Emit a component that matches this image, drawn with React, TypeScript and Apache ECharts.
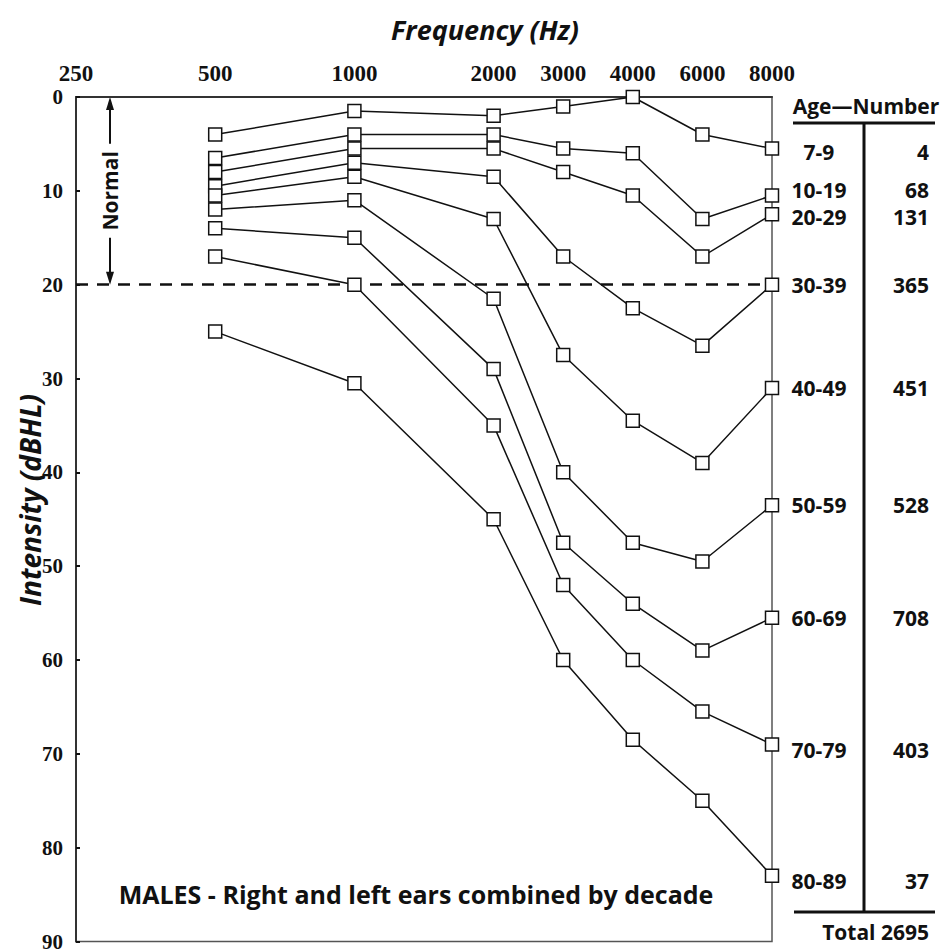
import React, { useEffect, useRef } from 'react';
import * as echarts from 'echarts';

// ---------- data ----------
const FREQUENCIES = [250, 500, 1000, 2000, 3000, 4000, 6000, 8000];
const TEST_FREQUENCIES = [500, 1000, 2000, 3000, 4000, 6000, 8000];
const AGE_GROUPS = ['7-9', '10-19', '20-29', '30-39', '40-49', '50-59', '60-69', '70-79', '80-89'];
const COUNTS = [4, 68, 131, 365, 451, 528, 708, 403, 37];

const AGE_7_9 = [4, 1.5, 2, 1, 0, 4, 5.5];
const AGE_10_19 = [6.5, 4, 4, 5.5, 6, 13, 10.5];
const AGE_20_29 = [8, 5.5, 5.5, 8, 10.5, 17, 12.5];
const AGE_30_39 = [9.5, 7, 8.5, 17, 22.5, 26.5, 20];
const AGE_40_49 = [10.5, 8.5, 13, 27.5, 34.5, 39, 31];
const AGE_50_59 = [12, 11, 21.5, 40, 47.5, 49.5, 43.5];
const AGE_60_69 = [14, 15, 29, 47.5, 54, 59, 55.5];
const AGE_70_79 = [17, 20, 35, 52, 60, 65.5, 69];
const AGE_80_89 = [25, 30.5, 45, 60, 68.5, 75, 83];
const SERIES_VALUES = [AGE_7_9, AGE_10_19, AGE_20_29, AGE_30_39, AGE_40_49, AGE_50_59, AGE_60_69, AGE_70_79, AGE_80_89];

const Y_MIN = 0;
const Y_MAX = 90;
const Y_INTERVAL = 10;
const NORMAL_LIMIT = 20;

// octave gaps get an unlabeled half-octave slot
const SLOTS: string[] = [];
FREQUENCIES.forEach((f, i) => {
  if (i > 0 && f / FREQUENCIES[i - 1] >= 2) SLOTS.push('');
  SLOTS.push(String(f));
});
const slotOf = (f: number) => SLOTS.indexOf(String(f));

const LABEL_DY: Record<string, number> = { '7-9': 3, '10-19': -6, '20-29': 3, '70-79': 6, '80-89': 5 };

const SANS = '"Open Sans", "Noto Sans", sans-serif';
const SERIF = '"Liberation Serif", "DejaVu Serif", serif';
const INK = '#111';

export default function App() {
  const ref = useRef<HTMLDivElement>(null);

  useEffect(() => {
    const el = ref.current!;
    const chart = echarts.init(el, undefined, { renderer: 'svg' });
    const total = COUNTS.reduce((a, b) => a + b, 0);

    const tableText = { fontFamily: SANS, fontWeight: 'bold' as const, fontSize: 21, color: INK, lineHeight: 17 };

    const option: any = {
      animation: false,
      backgroundColor: '#fff',
      grid: {
        left: 76, right: 171, top: 97, bottom: 6,
        show: true, borderColor: '#555', borderWidth: 1.5, containLabel: false,
      },
      xAxis: {
        type: 'category', position: 'top', data: SLOTS, boundaryGap: false,
        axisLine: { lineStyle: { color: '#333', width: 2 } },
        axisTick: { show: false },
        splitLine: { show: false },
        axisLabel: {
          interval: (_i: number, v: string) => v !== '',
          fontFamily: SERIF, fontWeight: 'bold', fontSize: 23, color: INK, margin: 12,
        },
      },
      yAxis: {
        type: 'value', inverse: true, min: Y_MIN, max: Y_MAX, interval: Y_INTERVAL,
        axisLine: { show: true, lineStyle: { color: '#333', width: 2 } },
        axisTick: { show: true, inside: true, length: 4, lineStyle: { color: INK, width: 2 } },
        splitLine: { show: false },
        axisLabel: { fontFamily: SERIF, fontWeight: 'bold', fontSize: 21, color: INK, margin: 13 },
      },
      series: AGE_GROUPS.map((age, s) => ({
        type: 'line',
        name: age,
        symbol: 'rect',
        symbolSize: 13,
        showSymbol: true,
        showAllSymbol: true,
        clip: false,
        z: 3,
        itemStyle: { color: '#fff', borderColor: INK, borderWidth: 1.5 },
        lineStyle: { color: INK, width: 1.5 },
        emphasis: { disabled: true },
        data: TEST_FREQUENCIES.map((f, i) => {
          const point: any = { value: [slotOf(f), SERIES_VALUES[s][i]] };
          if (i === TEST_FREQUENCIES.length - 1) {
            point.label = {
              show: true,
              position: 'inside',
              offset: [87, LABEL_DY[age] ?? 0],
              lineHeight: 17,
              formatter: `{age|${age}}{num|${COUNTS[s]}}`,
              rich: {
                age: { ...tableText, width: 60, align: 'center' },
                num: { ...tableText, width: 80, align: 'right' },
              },
            };
          }
          return point;
        }),
        markLine: s === 0 ? {
          silent: true,
          symbol: 'none',
          label: { show: false },
          lineStyle: { type: [12, 9], color: INK, width: 2.5 },
          data: [{ yAxis: NORMAL_LIMIT }],
          z: 1,
        } : undefined,
      })),
    };

    chart.setOption(option);

    const yTop = chart.convertToPixel({ yAxisIndex: 0 }, Y_MIN) as number;
    const yNorm = chart.convertToPixel({ yAxisIndex: 0 }, NORMAL_LIMIT) as number;
    const ax = 110;
    const mid = (yTop + yNorm) / 2;
    const lineStyle = { stroke: INK, lineWidth: 2 };
    const tableLine = { stroke: INK, lineWidth: 3 };

    chart.setOption({
      graphic: [
        { type: 'text', x: 485, y: 29, style: { text: 'Frequency (Hz)', fontFamily: SANS, fontWeight: 'bold', fontStyle: 'italic', fontSize: 27, fill: INK, textAlign: 'center', textVerticalAlign: 'middle' } },
        { type: 'text', x: 30, y: 500, rotation: Math.PI / 2, style: { text: 'Intensity (dBHL)', fontFamily: SANS, fontWeight: 'bold', fontStyle: 'italic', fontSize: 28, fill: INK, textAlign: 'center', textVerticalAlign: 'middle' } },
        { type: 'text', x: 416, y: 894, style: { text: 'MALES - Right and left ears combined by decade', fontFamily: SANS, fontWeight: 'bold', fontSize: 25, fill: INK, textAlign: 'center', textVerticalAlign: 'middle' } },
        // Normal arrow
        { type: 'line', shape: { x1: ax, y1: yTop + 10, x2: ax, y2: mid - 47 }, style: lineStyle },
        { type: 'line', shape: { x1: ax, y1: mid + 47, x2: ax, y2: yNorm - 10 }, style: lineStyle },
        { type: 'polygon', shape: { points: [[ax, yTop], [ax - 4, yTop + 13], [ax + 4, yTop + 13]] }, style: { fill: INK } },
        { type: 'polygon', shape: { points: [[ax, yNorm], [ax - 4, yNorm - 13], [ax + 4, yNorm - 13]] }, style: { fill: INK } },
        { type: 'text', x: ax, y: mid, rotation: Math.PI / 2, style: { text: 'Normal', fontFamily: SANS, fontWeight: 'bold', fontSize: 21, fill: INK, textAlign: 'center', textVerticalAlign: 'middle' } },
        // table
        { type: 'text', x: 866, y: 106, style: { text: 'Age\u2014Number', fontFamily: SANS, fontWeight: 'bold', fontSize: 21, fill: INK, textAlign: 'center', textVerticalAlign: 'middle' } },
        { type: 'line', shape: { x1: 793, y1: 123, x2: 935, y2: 123 }, style: tableLine },
        { type: 'line', shape: { x1: 864, y1: 123, x2: 864, y2: 912 }, style: tableLine },
        { type: 'line', shape: { x1: 794, y1: 912, x2: 935, y2: 912 }, style: tableLine },
        { type: 'text', x: 929, y: 932, style: { text: `Total ${total}`, fontFamily: SANS, fontWeight: 'bold', fontSize: 21, fill: INK, textAlign: 'right', textVerticalAlign: 'middle' } },
      ],
    });

    return () => chart.dispose();
  }, []);

  return <div ref={ref} style={{ position: 'fixed', left: 0, top: 0, width: 943, height: 952, background: '#fff' }} />;
}
